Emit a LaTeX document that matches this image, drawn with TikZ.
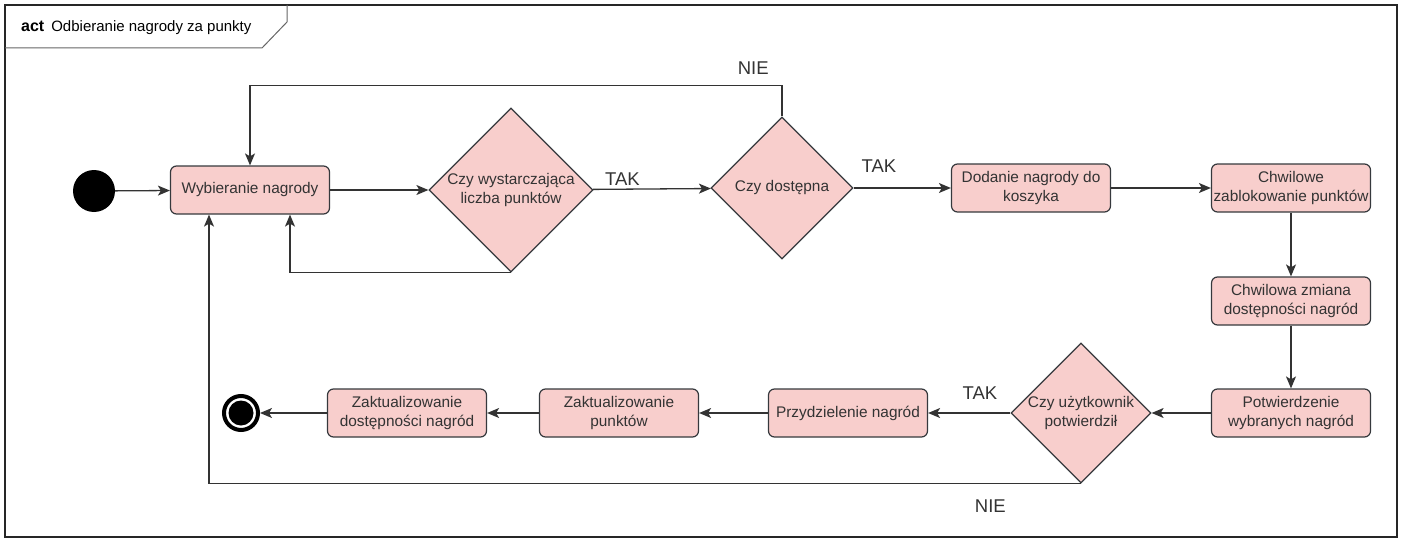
\documentclass[tikz,border=0pt]{standalone}
\usepackage{fontspec}
\setmainfont{Liberation Sans}
\usepackage{xcolor}
\usetikzlibrary{arrows.meta,shapes.geometric}
\definecolor{boxfill}{HTML}{F8CECC}
\definecolor{boxline}{HTML}{36393D}
\definecolor{txtgray}{HTML}{333333}
\tikzset{
  actbox/.style={rectangle,rounded corners=6pt,draw=boxline,fill=boxfill,line width=1.2pt,minimum width=159pt,minimum height=48pt,inner sep=0pt,align=center,text=txtgray,font=\fontsize{15.4}{18.5}\selectfont},
  decbox/.style={diamond,shape aspect=1,draw=boxline,fill=boxfill,line width=1.2pt,inner sep=0pt,align=center,text=txtgray,font=\fontsize{15.4}{18.5}\selectfont},
  flow/.style={draw=black!80,line width=1.3pt,-{Stealth[length=12pt,width=10pt,inset=3pt]}},
  guard/.style={text=txtgray,font=\fontsize{18.5}{20}\selectfont},
}
\begin{document}
\begin{tikzpicture}[x=1pt,y=-1pt]
\useasboundingbox (0,0) rectangle (1403,543);
\draw[line width=2.5pt,black!85] (5,5) rectangle (1397,537);
\draw[line width=1pt,black!60] (5,48) -- (262,48) -- (287,22) -- (287,5);
\node[anchor=west,inner sep=0pt] (title) at (21,28) {\fontsize{16}{18}\selectfont\textbf{act}\hspace{7pt}\fontsize{15}{18}\selectfont Odbieranie nagrody za punkty};
% activity nodes
\node[circle,fill=black,minimum size=42pt,inner sep=0pt] (start) at (94,191) {};
\node[actbox] (pick) at (250,190) {Wybieranie nagrody};
\node[decbox,minimum width=164pt,minimum height=164pt] (enough) at (511,190) {Czy wystarczająca\\liczba punktów};
\node[decbox,minimum width=142pt,minimum height=142pt] (avail) at (782,188) {Czy dostępna};
\node[actbox] (basket) at (1031,188) {Dodanie nagrody do\\koszyka};
\node[actbox] (lock) at (1291,188) {Chwilowe\\zablokowanie punktów};
\node[actbox] (change) at (1291,301) {Chwilowa zmiana\\dostępności nagród};
\node[actbox] (verify) at (1291,413) {Potwierdzenie\\wybranych nagród};
\node[decbox,minimum width=140pt,minimum height=140pt] (confirm) at (1081,413) {Czy użytkownik\\potwierdził};
\node[actbox] (assign) at (848,413) {Przydzielenie nagród};
\node[actbox] (updpts) at (619,413) {Zaktualizowanie\\punktów};
\node[actbox] (updavail) at (407,413) {Zaktualizowanie\\dostępności nagród};
\node[circle,draw=black,line width=4pt,fill=white,minimum size=34pt,inner sep=0pt] (finish) at (241,413) {};
\fill[black] (finish.center) circle (12.5);
% transitions
\draw[flow] (start) -- (pick);
\draw[flow] (pick) -- (enough);
\draw[flow] (enough) -- node[guard,above,pos=.25]{TAK} (avail);
\draw[flow] (enough.south) -| ([xshift=40pt]pick.south);
\draw[flow] (avail.north) -- ++(0,-31) -| node[guard,above=7pt,pos=.027]{NIE} (pick.north);
\draw[flow] (avail) -- node[guard,above=12pt,pos=.26]{TAK} (basket);
\draw[flow] (basket) -- (lock);
\draw[flow] (lock) -- (change);
\draw[flow] (change) -- (verify);
\draw[flow] (verify) -- (confirm);
\draw[flow] (confirm) -- node[guard,above=10pt,pos=.37]{TAK} (assign);
\draw[flow] (confirm.south) -| node[guard,below=12pt,pos=.052]{NIE} ([xshift=-41pt]pick.south);
\draw[flow] (assign) -- (updpts);
\draw[flow] (updpts) -- (updavail);
\draw[flow] (updavail) -- (finish);
\end{tikzpicture}
\end{document}
